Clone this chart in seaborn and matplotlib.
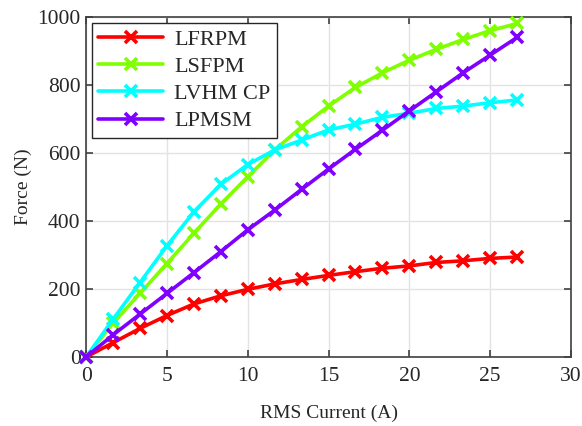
import numpy as np
import pandas as pd
import matplotlib
matplotlib.use("Agg")
import matplotlib.pyplot as plt
import seaborn as sns

current = [0, 1.667, 3.333, 5, 6.667, 8.333, 10, 11.667, 13.333, 15,
           16.667, 18.333, 20, 21.667, 23.333, 25, 26.667]
lfrpm = [0, 42, 84, 122, 156, 180, 199, 215, 228, 240, 251, 261, 268, 278, 283, 290, 294]
lsfpm = [0, 100, 187, 275, 364, 450, 530, 609, 677, 738, 793, 836, 873, 905, 934, 960, 981]
lvhm = [0, 111, 219, 327, 427, 508, 566, 609, 638, 668, 685, 705, 717, 731, 738, 748, 756]
lpmsm = [0, 65, 126, 187, 248, 310, 374, 432, 493, 553, 611, 667, 724, 780, 836, 888, 940]

names = ["LFRPM", "LSFPM", "LVHM CP", "LPMSM"]
colors = ["#FF0000", "#80FF00", "#00FFFF", "#8000FF"]
series = [lfrpm, lsfpm, lvhm, lpmsm]

sns.set_theme(style="white")
plt.rcParams['font.family'] = ['Liberation Serif', 'DejaVu Serif']

fig = plt.figure(figsize=(5.82, 4.26), dpi=100)
ax = fig.add_axes([0.148, 0.162, 0.833, 0.798])

for name, col, vals in zip(names, colors, series):
    df = pd.DataFrame({"x": current, "y": vals})
    sns.lineplot(data=df, x="x", y="y", ax=ax, color=col, label=name,
                 marker="x", markersize=8.5, markeredgewidth=2.6,
                 markeredgecolor=col, markerfacecolor=col, linewidth=2.6,
                 clip_on=False, zorder=3)

ax.set_xlim(0, 30)
ax.set_ylim(0, 1000)
ax.set_xticks(np.arange(0, 31, 5))
ax.set_yticks(np.arange(0, 1001, 200))
ax.grid(True, color="#E3E3E3", linewidth=1)
ax.set_axisbelow(True)
for s in ax.spines.values():
    s.set_color("#404040")
    s.set_linewidth(1.2)
ax.tick_params(direction="in", length=5, width=1.2, colors="#404040",
               labelcolor="#262626", labelsize=15.5, top=True, right=True,
               bottom=True, left=True)
ax.tick_params(axis="x", pad=7)
ax.tick_params(axis="y", pad=4)
ax.set_xlabel("RMS Current (A)", fontsize=14, color="#262626", labelpad=14)
ax.set_ylabel("Force (N)", fontsize=14, color="#262626", labelpad=4)

leg = ax.legend(loc="upper left", fontsize=16, frameon=True, fancybox=False,
                edgecolor="#262626", framealpha=1, borderpad=0.3,
                labelspacing=0.3, handlelength=2.9, handletextpad=0.5,
                borderaxespad=0.25)
leg.get_frame().set_linewidth(1)
leg.set_zorder(5)

fig.savefig("out.png", dpi=100)
